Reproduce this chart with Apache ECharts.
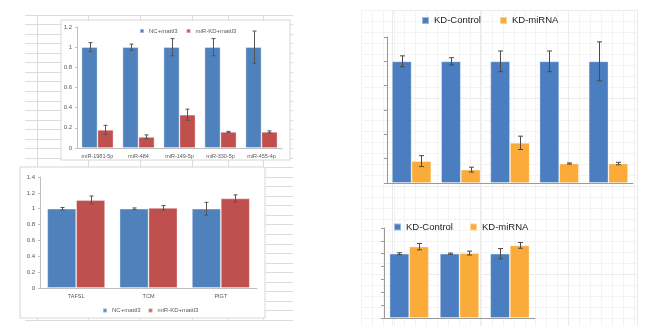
<!DOCTYPE html>
<html>
<head>
<meta charset="utf-8">
<script src="https://cdn.jsdelivr.net/npm/echarts@6/dist/echarts.min.js"></script>
<style>
  html, body { margin: 0; padding: 0; background: #fff; }
  #c { width: 655px; height: 326px; }
</style>
</head>
<body>
<div id="c"></div>
<script>
// miRNA panel: relative expression, control vs knock-down
const mirNames = ['miR-1981-5p', 'miR-484', 'miR-149-5p', 'miR-330-5p', 'miR-455-4p'];
const mirCtrl = [1, 1, 1, 1, 1];
const mirCtrlErr = [0.045, 0.03, 0.085, 0.085, 0.16];
const mirKd = [0.18, 0.11, 0.33, 0.16, 0.16];
const mirKdErr = [0.045, 0.02, 0.055, 0.005, 0.01];

// target gene panel
const geneNames = ['TAFSL', 'TCM', 'PIGT'];
const geneCtrl = [1, 1, 1];
const geneCtrlErr = [0.015, 0.01, 0.08];
const geneKd = [1.11, 1.01, 1.13];
const geneKdErr = [0.05, 0.03, 0.045];

// series names used in the two styles of the figure
const excelNames = ['NC+mattl3', 'miR-KD+mattl3'];
const numbersNames = ['KD-Control', 'KD-miRNA'];

// spreadsheet column boundaries (left sheet, px from sheet origin)
const sheetCols = [12, 63, 115, 167, 203, 238];

const FONT = 'Liberation Sans';
const EXCEL_BLUE = '#4f81bd', EXCEL_RED = '#c0504d';
const NUM_BLUE = '#4a7ec0', NUM_ORANGE = '#fbab3a';

const grids = [], xAxes = [], yAxes = [], series = [], legends = [];

function addGrid(g) { grids.push(Object.assign({ outerBoundsMode: 'none', containLabel: false }, g)); return grids.length - 1; }

// plain background lattice drawn with split lines of hidden value axes
function sheetLattice(rect, xOpt, yOpt, color) {
  const gi = addGrid(rect);
  const hidden = { axisLine: { show: false }, axisTick: { show: false }, axisLabel: { show: false } };
  xAxes.push(Object.assign({ gridIndex: gi, type: 'value', z: 0,
    splitLine: { show: true, lineStyle: { color: color, width: 1 } } }, hidden, xOpt,
    { axisTick: Object.assign({ show: false }, xOpt.axisTick || {}) }));
  yAxes.push(Object.assign({ gridIndex: gi, type: 'value', inverse: true, z: 0,
    splitLine: { show: true, lineStyle: { color: color, width: 1 } } }, hidden, yOpt));
}

// white chart frame on top of the sheet
function frame(rect) {
  const gi = addGrid(Object.assign({ show: true, backgroundColor: '#fff', borderColor: '#d6d6d6', borderWidth: 1, z: 1 }, rect));
  xAxes.push({ gridIndex: gi, type: 'value', show: false });
  yAxes.push({ gridIndex: gi, type: 'value', show: false });
}

function errorSeries(name, axisIdx, vals, errs, side, gap, color, cap) {
  return {
    type: 'custom', name: name, xAxisIndex: axisIdx, yAxisIndex: axisIdx, z: 4, silent: true,
    data: vals.map((v, i) => [i, v - errs[i], v + errs[i]]),
    encode: { x: 0, y: [1, 2] },
    renderItem: function (params, api) {
      const band = api.size([1, 0])[0];
      const bar = band * (1 - gap) / 2;
      const hi = api.coord([api.value(0), api.value(2)]);
      const lo = api.coord([api.value(0), api.value(1)]);
      const x = Math.round(hi[0] + side * bar / 2) + 0.5;
      const style = { stroke: color, lineWidth: 1 };
      return { type: 'group', children: [
        { type: 'line', shape: { x1: x, y1: hi[1], x2: x, y2: lo[1] }, style: style },
        { type: 'line', shape: { x1: x - cap, y1: hi[1], x2: x + cap, y2: hi[1] }, style: style },
        { type: 'line', shape: { x1: x - cap, y1: lo[1], x2: x + cap, y2: lo[1] }, style: style }
      ] };
    }
  };
}

function barChart(cfg) {
  const gi = addGrid(Object.assign({ z: 2 }, cfg.rect));
  const ai = xAxes.length;
  xAxes.push({
    gridIndex: gi, type: 'category', data: cfg.cats, z: 2,
    axisLine: { show: true, lineStyle: { color: cfg.axisColor, width: 1 } },
    axisTick: { show: false },
    axisLabel: cfg.xLabel ? Object.assign({ fontFamily: FONT, interval: 0 }, cfg.xLabel) : { show: false }
  });
  yAxes.push({
    gridIndex: gi, type: 'value', min: 0, max: cfg.max, interval: 0.2, z: 2,
    axisLine: { show: true, lineStyle: { color: cfg.axisColor, width: 1 } },
    axisTick: { show: true, inside: false, length: cfg.tickLen, lineStyle: { color: cfg.axisColor } },
    axisLabel: cfg.yLabel ? Object.assign({ fontFamily: FONT }, cfg.yLabel) : { show: false },
    splitLine: { show: false }
  });
  const gap = cfg.gap;
  [0, 1].forEach(k => {
    series.push({
      type: 'bar', name: cfg.names[k], xAxisIndex: ai, yAxisIndex: ai, z: 3,
      data: cfg.values[k], barGap: 0, barCategoryGap: (gap * 100) + '%',
      itemStyle: { color: cfg.colors[k], borderColor: 'rgba(255,255,255,0.45)', borderWidth: 0.8 },
      silent: true
    });
  });
  series.push(errorSeries(cfg.names[0], ai, cfg.values[0], cfg.errs[0], -1, gap, cfg.errColor, cfg.cap));
  series.push(errorSeries(cfg.names[1], ai, cfg.values[1], cfg.errs[1], 1, gap, cfg.errColor, cfg.cap));
  legends.push(Object.assign({
    data: cfg.names, icon: 'rect', orient: 'horizontal', padding: 0, selectedMode: false
  }, cfg.legend));
}

// --- backgrounds ---
// left worksheet cells
sheetLattice({ left: 25, top: 15, width: 268, height: 305 },
  { min: 0, max: 268, axisTick: { show: false, customValues: sheetCols } },
  { min: 0, max: 305, interval: 305 / 32 }, '#dcdcdc');
// right sheet: fine lattice and major lines
sheetLattice({ left: 361, top: 10, width: 276, height: 316 },
  { min: -2, max: 276, interval: 11 },
  { min: 0, max: 316, interval: 11 }, '#f3f3f3');
sheetLattice({ left: 392, top: 10, width: 245, height: 316 },
  { min: 0, max: 245, interval: 88 },
  { min: 0, max: 316, interval: 88 }, '#ebebeb');

// chart frames on the left sheet
frame({ left: 61, top: 20, width: 229, height: 140 });
frame({ left: 20, top: 167, width: 245, height: 151 });

const excelX = { color: '#595959', fontSize: 5.5, margin: 5 };
const excelY = { color: '#595959', fontSize: 6, margin: 5 };
const excelLegendText = { color: '#595959', fontSize: 6, fontFamily: FONT };
const numLegendText = { color: '#222', fontSize: 9.5, fontFamily: FONT };

// top-left: miRNA levels
barChart({
  rect: { left: 77, top: 27, width: 205, height: 121 },
  cats: mirNames, max: 1.2, gap: 0.22, names: excelNames,
  values: [mirCtrl, mirKd], errs: [mirCtrlErr, mirKdErr],
  colors: [EXCEL_BLUE, EXCEL_RED], axisColor: '#bfbfbf', tickLen: 2,
  errColor: '#555', cap: 2, xLabel: excelX, yLabel: excelY,
  legend: { left: 139, top: 28, itemWidth: 4, itemHeight: 4, itemGap: 8, textStyle: excelLegendText }
});

// bottom-left: target genes
barChart({
  rect: { left: 40, top: 177, width: 217, height: 111 },
  cats: geneNames, max: 1.4, gap: 0.2, names: excelNames,
  values: [geneCtrl, geneKd], errs: [geneCtrlErr, geneKdErr],
  colors: [EXCEL_BLUE, EXCEL_RED], axisColor: '#bfbfbf', tickLen: 2,
  errColor: '#555', cap: 2, xLabel: excelX, yLabel: excelY,
  legend: { left: 102, top: 307.5, itemWidth: 4, itemHeight: 4, itemGap: 7, textStyle: excelLegendText }
});

// top-right: miRNA levels, unlabeled axes
barChart({
  rect: { left: 387, top: 37, width: 246, height: 146 },
  cats: mirNames, max: 1.2, gap: 0.2, names: numbersNames,
  values: [mirCtrl, mirKd], errs: [mirCtrlErr, mirKdErr],
  colors: [NUM_BLUE, NUM_ORANGE], axisColor: '#9a9a9a', tickLen: 3,
  errColor: '#4a4a4a', cap: 2.5, xLabel: null, yLabel: null,
  legend: { left: 421, top: 15.5, itemWidth: 7, itemHeight: 7, itemGap: 18, textStyle: numLegendText }
});

// bottom-right: target genes, unlabeled axes
barChart({
  rect: { left: 384, top: 228, width: 151, height: 90 },
  cats: geneNames, max: 1.4, gap: 0.22, names: numbersNames,
  values: [geneCtrl, geneKd], errs: [geneCtrlErr, geneKdErr],
  colors: [NUM_BLUE, NUM_ORANGE], axisColor: '#9a9a9a', tickLen: 3,
  errColor: '#4a4a4a', cap: 2.5, xLabel: null, yLabel: null,
  legend: { left: 393, top: 222, itemWidth: 7, itemHeight: 7, itemGap: 16, textStyle: numLegendText }
});

const chart = echarts.init(document.getElementById('c'), null, { renderer: 'canvas' });
chart.setOption({
  backgroundColor: '#fff',
  animation: false,
  grid: grids,
  xAxis: xAxes,
  yAxis: yAxes,
  legend: legends,
  series: series
});
</script>
</body>
</html>
